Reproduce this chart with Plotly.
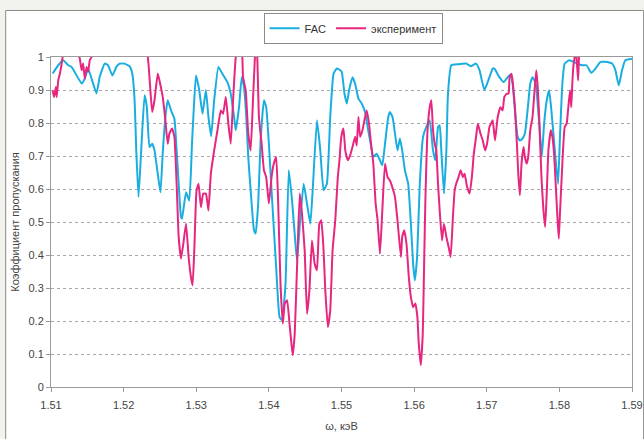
import plotly.graph_objects as go

# Energy grid (keV) and transmission for the FAC calculation
fac_energy = [
    1.51023, 1.51100, 1.51168, 1.51237, 1.51284, 1.51421, 1.51466, 1.51511, 1.51626, 1.51671,
    1.51740, 1.51785, 1.51845, 1.51900, 1.51945, 1.52014, 1.52082, 1.52119, 1.52151, 1.52174,
    1.52205, 1.52242, 1.52288, 1.52319, 1.52356, 1.52393, 1.52425, 1.52470, 1.52507, 1.52538,
    1.52575, 1.52607, 1.52653, 1.52699, 1.52730, 1.52758, 1.52790, 1.52804, 1.52859, 1.52904,
    1.52941, 1.52960, 1.52996, 1.53041, 1.53086, 1.53133, 1.53168, 1.53205, 1.53247, 1.53305,
    1.53360, 1.53429, 1.53475, 1.53521, 1.53544, 1.53589, 1.53626, 1.53658, 1.53689, 1.53716,
    1.53749, 1.53795, 1.53818, 1.53853, 1.53886, 1.53932, 1.53963, 1.54000, 1.54045, 1.54100,
    1.54147, 1.54182, 1.54229, 1.54274, 1.54319, 1.54366, 1.54388, 1.54434, 1.54479, 1.54525,
    1.54571, 1.54603, 1.54662, 1.54708, 1.54753, 1.54799, 1.54845, 1.54890, 1.54936, 1.54982,
    1.55004, 1.55041, 1.55073, 1.55105, 1.55151, 1.55188, 1.55233, 1.55278, 1.55325, 1.55360,
    1.55393, 1.55438, 1.55484, 1.55530, 1.55562, 1.55599, 1.55644, 1.55667, 1.55703, 1.55736,
    1.55771, 1.55804, 1.55836, 1.55873, 1.55918, 1.55955, 1.55986, 1.56010, 1.56041, 1.56078,
    1.56123, 1.56168, 1.56215, 1.56260, 1.56292, 1.56329, 1.56352, 1.56374, 1.56411, 1.56444,
    1.56466, 1.56511, 1.56603, 1.56716, 1.56785, 1.56853, 1.56900, 1.56968, 1.57037, 1.57082,
    1.57105, 1.57174, 1.57233, 1.57288, 1.57325, 1.57356, 1.57388, 1.57425, 1.57456, 1.57493,
    1.57525, 1.57562, 1.57599, 1.57630, 1.57675, 1.57708, 1.57736, 1.57758, 1.57790, 1.57826,
    1.57859, 1.57890, 1.57918, 1.57949, 1.57982, 1.58010, 1.58041, 1.58073, 1.58134, 1.58201,
    1.58247, 1.58315, 1.58374, 1.58438, 1.58497, 1.58566, 1.58658, 1.58726, 1.58771, 1.58818,
    1.58863, 1.58908, 1.59000,
]
fac_trans = [
    0.950, 0.975, 0.990, 0.975, 0.970, 0.920, 0.935, 0.965, 0.890, 0.940,
    0.980, 0.975, 0.944, 0.970, 0.980, 0.980, 0.972, 0.950, 0.870, 0.717,
    0.576, 0.717, 0.884, 0.850, 0.727, 0.737, 0.717, 0.646, 0.590, 0.707,
    0.818, 0.869, 0.838, 0.813, 0.717, 0.616, 0.515, 0.510, 0.590, 0.565,
    0.737, 0.818, 0.944, 0.900, 0.828, 0.900, 0.818, 0.760, 0.869, 0.970,
    0.949, 0.924, 0.889, 0.818, 0.778, 0.848, 0.939, 0.909, 0.818, 0.697,
    0.596, 0.475, 0.465, 0.556, 0.747, 0.869, 0.848, 0.737, 0.566, 0.364,
    0.212, 0.202, 0.313, 0.657, 0.566, 0.434, 0.384, 0.515, 0.616, 0.556,
    0.495, 0.596, 0.808, 0.717, 0.596, 0.616, 0.818, 0.949, 0.965, 0.960,
    0.955, 0.889, 0.859, 0.900, 0.939, 0.919, 0.874, 0.859, 0.833, 0.788,
    0.747, 0.697, 0.707, 0.687, 0.672, 0.737, 0.818, 0.833, 0.818, 0.768,
    0.717, 0.753, 0.717, 0.657, 0.616, 0.495, 0.374, 0.323, 0.394, 0.616,
    0.758, 0.788, 0.808, 0.717, 0.687, 0.788, 0.793, 0.717, 0.586, 0.717,
    0.889, 0.975, 0.978, 0.980, 0.972, 0.980, 0.960, 0.900, 0.939, 0.965,
    0.965, 0.939, 0.924, 0.939, 0.947, 0.919, 0.838, 0.758, 0.747, 0.753,
    0.768, 0.838, 0.919, 0.939, 0.919, 0.838, 0.758, 0.697, 0.798, 0.869,
    0.899, 0.838, 0.768, 0.687, 0.616, 0.768, 0.919, 0.980, 0.990, 0.985,
    0.980, 0.975, 0.975, 0.952, 0.965, 0.985, 0.985, 0.980, 0.960, 0.914,
    0.960, 0.990, 0.995,
]

# Measured transmission (values above 1 are cut off by the axis range)
exp_energy = [
    1.51023, 1.51041, 1.51068, 1.51078, 1.51100, 1.51123, 1.51147, 1.51160, 1.51205, 1.51288,
    1.51356, 1.51397, 1.51421, 1.51442, 1.51466, 1.51489, 1.51511, 1.51534, 1.51558, 1.51603,
    1.51808, 1.52082, 1.52288, 1.52333, 1.52356, 1.52393, 1.52425, 1.52470, 1.52503, 1.52538,
    1.52575, 1.52607, 1.52630, 1.52667, 1.52699, 1.52730, 1.52758, 1.52790, 1.52822, 1.52859,
    1.52895, 1.52927, 1.52949, 1.52973, 1.53004, 1.53032, 1.53064, 1.53096, 1.53133, 1.53168,
    1.53201, 1.53247, 1.53292, 1.53338, 1.53370, 1.53407, 1.53442, 1.53475, 1.53507, 1.53544,
    1.53589, 1.53634, 1.53644, 1.53681, 1.53716, 1.53749, 1.53781, 1.53808, 1.53822, 1.53840,
    1.53863, 1.53900, 1.53932, 1.53963, 1.54000, 1.54037, 1.54068, 1.54100, 1.54127, 1.54160,
    1.54192, 1.54219, 1.54251, 1.54284, 1.54311, 1.54329, 1.54356, 1.54388, 1.54425, 1.54456,
    1.54493, 1.54525, 1.54558, 1.54593, 1.54630, 1.54662, 1.54695, 1.54722, 1.54753, 1.54777,
    1.54812, 1.54845, 1.54877, 1.54914, 1.54949, 1.54973, 1.54997, 1.55027, 1.55052, 1.55086,
    1.55119, 1.55151, 1.55188, 1.55210, 1.55233, 1.55256, 1.55288, 1.55325, 1.55347, 1.55379,
    1.55407, 1.55438, 1.55470, 1.55497, 1.55530, 1.55562, 1.55599, 1.55634, 1.55667, 1.55699,
    1.55736, 1.55771, 1.55818, 1.55836, 1.55863, 1.55895, 1.55927, 1.55955, 1.55986, 1.56018,
    1.56045, 1.56064, 1.56092, 1.56119, 1.56137, 1.56155, 1.56182, 1.56215, 1.56237, 1.56260,
    1.56284, 1.56305, 1.56329, 1.56352, 1.56384, 1.56411, 1.56444, 1.56475, 1.56503, 1.56534,
    1.56558, 1.56579, 1.56612, 1.56640, 1.56671, 1.56695, 1.56730, 1.56763, 1.56795, 1.56822,
    1.56853, 1.56877, 1.56914, 1.56945, 1.56977, 1.57004, 1.57037, 1.57059, 1.57082, 1.57114,
    1.57151, 1.57188, 1.57219, 1.57242, 1.57278, 1.57301, 1.57315, 1.57342, 1.57360, 1.57388,
    1.57415, 1.57434, 1.57456, 1.57479, 1.57507, 1.57525, 1.57548, 1.57571, 1.57599, 1.57630,
    1.57662, 1.57682, 1.57699, 1.57722, 1.57753, 1.57781, 1.57804, 1.57826, 1.57849, 1.57882,
    1.57904, 1.57927, 1.57949, 1.57973, 1.57992, 1.58010, 1.58041, 1.58073, 1.58100, 1.58119,
    1.58147, 1.58164, 1.58178, 1.58192, 1.58210, 1.58226, 1.58258, 1.58270, 1.58288,
]
exp_trans = [
    0.899, 0.879, 0.909, 0.879, 0.929, 0.950, 0.980, 1.000, 1.030, 1.050,
    1.020, 0.995, 0.960, 0.980, 0.934, 0.970, 0.955, 0.990, 1.000, 1.040,
    1.060, 1.050, 1.030, 1.000, 0.939, 0.833, 0.869, 0.950, 0.919, 0.879,
    0.808, 0.737, 0.768, 0.783, 0.758, 0.616, 0.455, 0.389, 0.434, 0.495,
    0.394, 0.333, 0.308, 0.414, 0.596, 0.616, 0.545, 0.586, 0.586, 0.535,
    0.646, 0.717, 0.778, 0.838, 0.828, 0.879, 0.798, 0.737, 0.869, 1.000,
    1.050, 1.000, 0.939, 0.899, 0.768, 0.717, 0.869, 1.000, 1.040, 1.000,
    0.818, 0.737, 0.657, 0.636, 0.556, 0.636, 0.677, 0.697, 0.566, 0.313,
    0.192, 0.253, 0.263, 0.192, 0.131, 0.096, 0.162, 0.364, 0.586, 0.525,
    0.414, 0.222, 0.293, 0.444, 0.374, 0.354, 0.495, 0.505, 0.414, 0.293,
    0.182, 0.232, 0.414, 0.505, 0.636, 0.690, 0.758, 0.783, 0.717, 0.687,
    0.702, 0.727, 0.758, 0.732, 0.818, 0.758, 0.778, 0.818, 0.838, 0.798,
    0.737, 0.677, 0.556, 0.505, 0.404, 0.535, 0.677, 0.636, 0.626, 0.606,
    0.576, 0.505, 0.394, 0.455, 0.475, 0.434, 0.333, 0.273, 0.242, 0.253,
    0.212, 0.131, 0.066, 0.162, 0.364, 0.566, 0.768, 0.848, 0.869, 0.778,
    0.737, 0.717, 0.616, 0.535, 0.444, 0.495, 0.455, 0.424, 0.394, 0.515,
    0.596, 0.616, 0.636, 0.657, 0.636, 0.646, 0.606, 0.586, 0.636, 0.707,
    0.758, 0.798, 0.768, 0.747, 0.717, 0.737, 0.788, 0.798, 0.808, 0.747,
    0.818, 0.848, 0.838, 0.879, 0.889, 0.889, 0.939, 0.949, 0.919, 0.848,
    0.737, 0.646, 0.581, 0.677, 0.727, 0.697, 0.677, 0.697, 0.778, 0.818,
    0.909, 0.960, 0.919, 0.818, 0.636, 0.535, 0.485, 0.586, 0.717, 0.778,
    0.758, 0.707, 0.616, 0.515, 0.449, 0.535, 0.677, 0.788, 0.798, 0.838,
    0.899, 0.848, 0.919, 0.970, 1.000, 1.030, 0.929, 1.000, 1.040,
]

x_ticks = [1.51, 1.52, 1.53, 1.54, 1.55, 1.56, 1.57, 1.58, 1.59]
y_ticks = [0, 0.1, 0.2, 0.3, 0.4, 0.5, 0.6, 0.7, 0.8, 0.9, 1]

FONT = "Liberation Sans, Arial, sans-serif"
AXIS_GREY = "#9a9a9a"

fig = go.Figure()
fig.add_trace(go.Scatter(
    x=fac_energy, y=fac_trans, mode="lines", name="FAC",
    line=dict(color="#1aaee0", width=2, shape="spline", smoothing=0.4),
))
fig.add_trace(go.Scatter(
    x=exp_energy, y=exp_trans, mode="lines", name="эксперимент",
    line=dict(color="#e6267f", width=2, shape="spline", smoothing=0.4),
))

# white panel with a grey frame behind the whole chart
fig.add_shape(
    type="rect", xref="paper", yref="paper",
    x0=-0.078, x1=1.02, y0=-0.2, y1=1.141,
    line=dict(color="#8a8a8a", width=1), fillcolor="white", layer="below",
)

fig.update_layout(
    width=644, height=439,
    margin=dict(l=51, r=12, t=57, b=52, autoexpand=False),
    paper_bgcolor="#f3f3ee",
    plot_bgcolor="white",
    font=dict(family=FONT, size=11, color="#444444"),
    showlegend=True,
    legend=dict(
        orientation="h", x=0.52, xanchor="center", y=1.087, yanchor="middle",
        bgcolor="white", bordercolor="#8a8a8a", borderwidth=1,
        font=dict(family=FONT, size=11, color="#333333"),
        itemwidth=30, tracegroupgap=0,
    ),
    xaxis=dict(
        range=[1.51, 1.59], tickvals=x_ticks, ticktext=[f"{v:.2f}" for v in x_ticks],
        showgrid=False, zeroline=False, automargin=False,
        showline=True, linecolor=AXIS_GREY, linewidth=1, mirror=True,
        ticks="outside", ticklen=4, tickcolor=AXIS_GREY, ticklabelstandoff=4,
        ticklabeloverflow="allow",
        title=dict(text="ω, кэВ", font=dict(family=FONT, size=11, color="#444444"), standoff=12),
    ),
    yaxis=dict(
        range=[0, 1], tickvals=y_ticks, ticktext=[f"{v:g}" for v in y_ticks],
        showgrid=True, gridcolor="#a8a8a8", gridwidth=1, griddash="dot",
        zeroline=False, automargin=False,
        showline=True, linecolor=AXIS_GREY, linewidth=1, mirror=True,
        ticks="outside", ticklen=4, tickcolor=AXIS_GREY,
        title=dict(text="Коэффициент пропускания", font=dict(family=FONT, size=11, color="#444444"), standoff=6),
    ),
)

fig.write_html("out.html")
